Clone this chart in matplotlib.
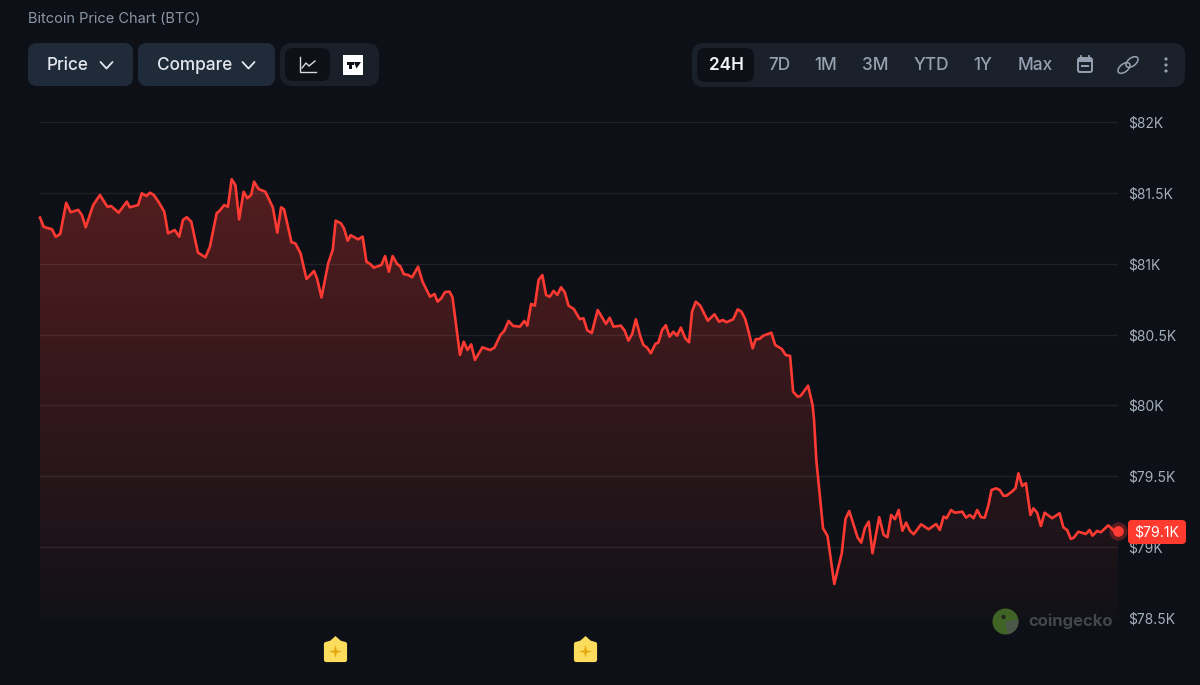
import numpy as np
import matplotlib
matplotlib.use("Agg")
import matplotlib.pyplot as plt
from matplotlib.patches import FancyBboxPatch, Circle, Wedge, Rectangle, Ellipse
from matplotlib.path import Path

# minutes since the start of the 24h window, and BTC price in USD
minutes = [0, 5, 16, 21, 27, 35, 41, 51, 56, 61, 71, 80, 90, 95, 105, 116, 120, 131, 136, 142,
           147, 152, 159, 166, 171, 180, 186, 191, 196, 202, 211, 221, 227, 236, 240, 246, 251, 256, 261, 266,
           272, 277, 282, 286, 292, 301, 311, 317, 322, 326, 336, 341, 348, 356, 366, 370, 376, 385, 391, 395,
           402, 406, 411, 415, 425, 431, 436, 441, 446, 456, 461, 466, 471, 477, 481, 486, 492, 497, 505, 511,
           521, 527, 531, 536, 541, 547, 551, 561, 566, 571, 576, 581, 591, 601, 607, 615, 620, 626, 632, 641,
           647, 651, 656, 661, 666, 671, 676, 681, 686, 691, 696, 701, 706, 713, 721, 726, 731, 737, 745, 756,
           761, 766, 776, 781, 786, 791, 796, 802, 806, 811, 816, 822, 826, 831, 836, 841, 846, 851, 856, 862,
           867, 871, 876, 882, 892, 901, 907, 912, 917, 926, 932, 937, 942, 946, 952, 956, 961, 966, 977, 982,
           991, 996, 1002, 1006, 1012, 1016, 1026, 1032, 1034, 1037, 1046, 1052, 1061, 1071, 1076, 1081, 1092, 1097, 1102, 1107,
           1112, 1121, 1127, 1132, 1137, 1142, 1147, 1152, 1157, 1162, 1167, 1177, 1187, 1197, 1202, 1207, 1211, 1217, 1222, 1232,
           1237, 1242, 1247, 1252, 1257, 1262, 1267, 1271, 1277, 1282, 1287, 1291, 1298, 1303, 1307, 1312, 1317, 1323, 1327, 1332,
           1337, 1342, 1352, 1362, 1367, 1372, 1377, 1381, 1387, 1397, 1402, 1406, 1412, 1417, 1427, 1436, 1440]
prices = [81325, 81260, 81243, 81190, 81210, 81430, 81363, 81380, 81344, 81257, 81414, 81485, 81402, 81407, 81360, 81438, 81398, 81414, 81497, 81478,
          81501, 81485, 81431, 81367, 81215, 81238, 81191, 81309, 81328, 81297, 81078, 81045, 81120, 81356, 81374, 81414, 81402, 81596, 81555, 81313,
          81508, 81462, 81485, 81579, 81527, 81508, 81398, 81219, 81398, 81384, 81151, 81144, 81074, 80892, 80949, 80897, 80762, 81003, 81097, 81304,
          81285, 81250, 81162, 81201, 81172, 81191, 81014, 80998, 80972, 80991, 81054, 80944, 81054, 80998, 80984, 80927, 80920, 80904, 80979, 80873,
          80767, 80786, 80732, 80756, 80800, 80803, 80763, 80356, 80450, 80391, 80431, 80321, 80410, 80391, 80407, 80497, 80525, 80596, 80561, 80556,
          80596, 80563, 80716, 80704, 80885, 80920, 80779, 80767, 80808, 80779, 80834, 80798, 80704, 80681, 80609, 80615, 80530, 80511, 80673, 80575,
          80619, 80556, 80563, 80527, 80457, 80504, 80608, 80485, 80427, 80407, 80368, 80434, 80443, 80532, 80566, 80485, 80520, 80492, 80549, 80474,
          80446, 80661, 80732, 80704, 80598, 80643, 80591, 80603, 80587, 80608, 80678, 80661, 80610, 80532, 80403, 80467, 80469, 80492, 80513, 80427,
          80398, 80356, 80349, 80097, 80062, 80067, 80139, 80003, 79897, 79615, 79133, 79079, 78740, 78957, 79199, 79255, 79070, 79032, 79137, 79180,
          78957, 79211, 79086, 79070, 79227, 79197, 79262, 79116, 79173, 79116, 79091, 79161, 79126, 79163, 79121, 79215, 79204, 79262, 79243, 79250,
          79208, 79227, 79204, 79262, 79211, 79208, 79298, 79403, 79415, 79403, 79363, 79363, 79391, 79415, 79521, 79432, 79451, 79227, 79274, 79243,
          79149, 79243, 79204, 79239, 79140, 79121, 79058, 79067, 79109, 79093, 79121, 79081, 79114, 79105, 79154, 79109, 79114]
y_ticks = [78500, 79000, 79500, 80000, 80500, 81000, 81500, 82000]
y_labels = ["$78.5K", "$79K", "$79.5K", "$80K", "$80.5K", "$81K", "$81.5K", "$82K"]
event_minutes = [394, 728]
last_label = "$79.1K"
range_buttons = ["24H", "7D", "1M", "3M", "YTD", "1Y", "Max"]
range_x = [726, 779, 826, 875, 931, 983, 1035]

W, H = 1200, 685
BG = "#0d1117"
RED = "#ff3a33"
plt.rcParams["font.family"] = ["Inter", "DejaVu Sans"]

fig = plt.figure(figsize=(W / 100, H / 100), dpi=100, facecolor=BG)

# main chart axes, spans the gridlines exactly
ax = fig.add_axes([40 / W, 1 - 618 / H, 1078 / W, 496 / H], facecolor="none")
ax.set_xlim(0, 1440)
ax.set_ylim(78500, 82000)
for s in ax.spines.values():
    s.set_visible(False)
ax.set_xticks([])
ax.yaxis.tick_right()
ax.set_yticks(y_ticks)
ax.set_yticklabels(y_labels, fontsize=10, color="#a4afbd")
ax.tick_params(axis="y", length=0, pad=7)

# gradient fill with a faint dot texture, clipped to the area below the line
rows, cols = 496, 1078
alpha = np.linspace(0.33, 0.02, rows)[:, None] * np.ones((1, cols))
yy, xx = np.mgrid[0:rows, 0:cols]
dots = (yy % 8 < 2) & (xx % 8 < 2)
alpha = alpha + dots * 0.025 * np.linspace(1, 0.6, rows)[:, None]
img = np.zeros((rows, cols, 4))
img[..., 0] = 1.0
img[..., 1] = 0.23
img[..., 2] = 0.2
img[..., 3] = alpha
im = ax.imshow(img, extent=[0, 1440, 78500, 82000], aspect="auto", origin="upper",
               interpolation="nearest", zorder=1)
poly_x = [minutes[0]] + minutes + [minutes[-1]]
poly_y = [78500] + prices + [78500]
clip = plt.Polygon(np.column_stack([poly_x, poly_y]), closed=True, transform=ax.transData, fc="none", ec="none")
ax.add_patch(clip)
im.set_clip_path(clip)

for t in y_ticks:
    ax.axhline(t, color="#ffffff", alpha=0.08, lw=1, zorder=2)

ax.plot(minutes, prices, color=RED, lw=1.9, solid_joinstyle="round", zorder=3, clip_on=False)
ax.scatter(minutes[-1], prices[-1], s=170, color=RED, alpha=0.3, lw=0, zorder=4, clip_on=False)
ax.scatter(minutes[-1], prices[-1], s=60, color=RED, lw=0, zorder=5, clip_on=False)

# badge markers below the axis, placed in data x
badge = Path([(-1, -0.8), (-1, -1), (-0.8, -1), (0.8, -1), (1, -1), (1, -0.8), (1, 0.55), (1, 0.75), (0.8, 0.75),
              (0.45, 0.85), (0, 1.25), (-0.45, 0.85), (-0.8, 0.75), (-1, 0.75), (-1, 0.55), (-1, -0.8)],
             [Path.MOVETO, Path.CURVE3, Path.CURVE3, Path.LINETO, Path.CURVE3, Path.CURVE3, Path.LINETO, Path.CURVE3, Path.CURVE3,
              Path.LINETO, Path.LINETO, Path.LINETO, Path.LINETO, Path.CURVE3, Path.CURVE3, Path.LINETO])
star = Path([(0, 1), (0.2, 0.2), (1, 0), (0.2, -0.2), (0, -1), (-0.2, -0.2), (-1, 0), (-0.2, 0.2), (0, 1)], closed=True)
trans = ax.get_xaxis_transform()
for m in event_minutes:
    ax.scatter(m, -0.0655, marker=badge, s=434, color="#fcdc5c", lw=0, transform=trans, clip_on=False, zorder=3)
    ax.scatter(m, -0.0665, marker=star, s=90, color="#e5a90f", lw=0, transform=trans, clip_on=False, zorder=4)

# overlay in pixel coordinates for the page chrome
ui = fig.add_axes([0, 0, 1, 1], facecolor="none")
ui.set_xlim(0, W)
ui.set_ylim(H, 0)
ui.axis("off")


def rbox(x0, y0, x1, y1, r, color, z=1):
    ui.add_patch(FancyBboxPatch((x0 + r, y0 + r), x1 - x0 - 2 * r, y1 - y0 - 2 * r,
                                boxstyle=f"round,pad={r},rounding_size={r}", fc=color, ec="none", zorder=z))


ui.text(28, 18.5, "Bitcoin Price Chart (BTC)", fontsize=10.5, color="#8a96a6", va="center", ha="left")

rbox(28, 43, 133, 86, 9, "#202b3a")
rbox(138, 43, 275, 86, 9, "#202b3a")
ui.text(47, 65.7, "Price", fontsize=12.4, color="#e4e8ee", va="center", ha="left", fontweight="medium")
ui.text(157, 65.7, "Compare", fontsize=12.4, color="#e4e8ee", va="center", ha="left", fontweight="medium")
for cx in (106.5, 248.5):
    ui.plot([cx - 6, cx, cx + 6], [62, 68.5, 62], color="#e4e8ee", lw=1.3, solid_capstyle="round")

rbox(280, 43, 379, 86, 12, "#1a2029")
rbox(285, 48, 330, 81, 8, "#0d1117", 2)
ui.plot([300, 300, 316], [57, 72, 72], color="#d5dae1", lw=1, zorder=3)
ui.plot([302, 306, 309, 315], [68, 63, 66, 61], color="#d5dae1", lw=1, zorder=3)
ui.add_patch(Rectangle((343, 55), 20, 20, fc="#ffffff", ec="none", zorder=3))
ui.add_patch(Rectangle((346.5, 62), 7, 2.5, fc="#0d1117", ec="none", zorder=4))
ui.add_patch(Rectangle((349, 62), 2.5, 6.5, fc="#0d1117", ec="none", zorder=4))
ui.add_patch(plt.Polygon([(354, 62), (361, 62), (356.5, 68.5)], fc="#0d1117", ec="none", zorder=4))

rbox(692, 43, 1185, 87, 12, "#1a212b")
rbox(697, 48, 754, 82, 8, "#0d1117", 2)
for i, (lab, x) in enumerate(zip(range_buttons, range_x)):
    ui.text(x, 65.7, lab, fontsize=12.4, color="#f2f4f7" if i == 0 else "#95a1b0", va="center", ha="center",
            fontweight="semibold" if i == 0 else "medium", zorder=3)

# calendar, link and menu icons
ui.add_patch(FancyBboxPatch((1079, 59), 12, 12, boxstyle="round,pad=1,rounding_size=2", fc="none", ec="#95a1b0", lw=1.4, zorder=3))
ui.add_patch(Rectangle((1078, 57.5), 14, 4, fc="#95a1b0", ec="none", zorder=3))
ui.add_patch(Rectangle((1081, 65), 8, 2, fc="#95a1b0", ec="none", zorder=3))
ui.plot([1081, 1081], [56, 59], color="#95a1b0", lw=1.3, zorder=3)
ui.plot([1089, 1089], [56, 59], color="#95a1b0", lw=1.3, zorder=3)
for cx, cy in ((1124, 68), (1132, 62)):
    ui.add_patch(Ellipse((cx, cy), 14, 8, angle=-38, fc="none", ec="#95a1b0", lw=1.1, zorder=3))
for cy in (59, 65, 71):
    ui.add_patch(Circle((1166, cy), 1.6, fc="#95a1b0", ec="none", zorder=3))

# coingecko watermark
ui.add_patch(Circle((1005.5, 621.5), 13, fc="#3f6426", ec="none", zorder=6))
ui.add_patch(Wedge((1005.5, 621.5), 13, -10, 80, fc="#4b5648", ec="none", zorder=7))
ui.add_patch(Circle((1003.5, 617), 2.2, fc="#20281c", ec="none", zorder=8))
ui.text(1028, 621, "coingecko", fontsize=12, color="#41474d", fontweight="bold", va="center", ha="left", zorder=6)

# last price tag
rbox(1128, 520, 1186, 544, 4, "#ff3b30", 8)
ui.text(1157, 532.5, last_label, fontsize=10.2, color="#ffffff", va="center", ha="center", zorder=9)

fig.savefig("out.png", dpi=100, facecolor=BG)
